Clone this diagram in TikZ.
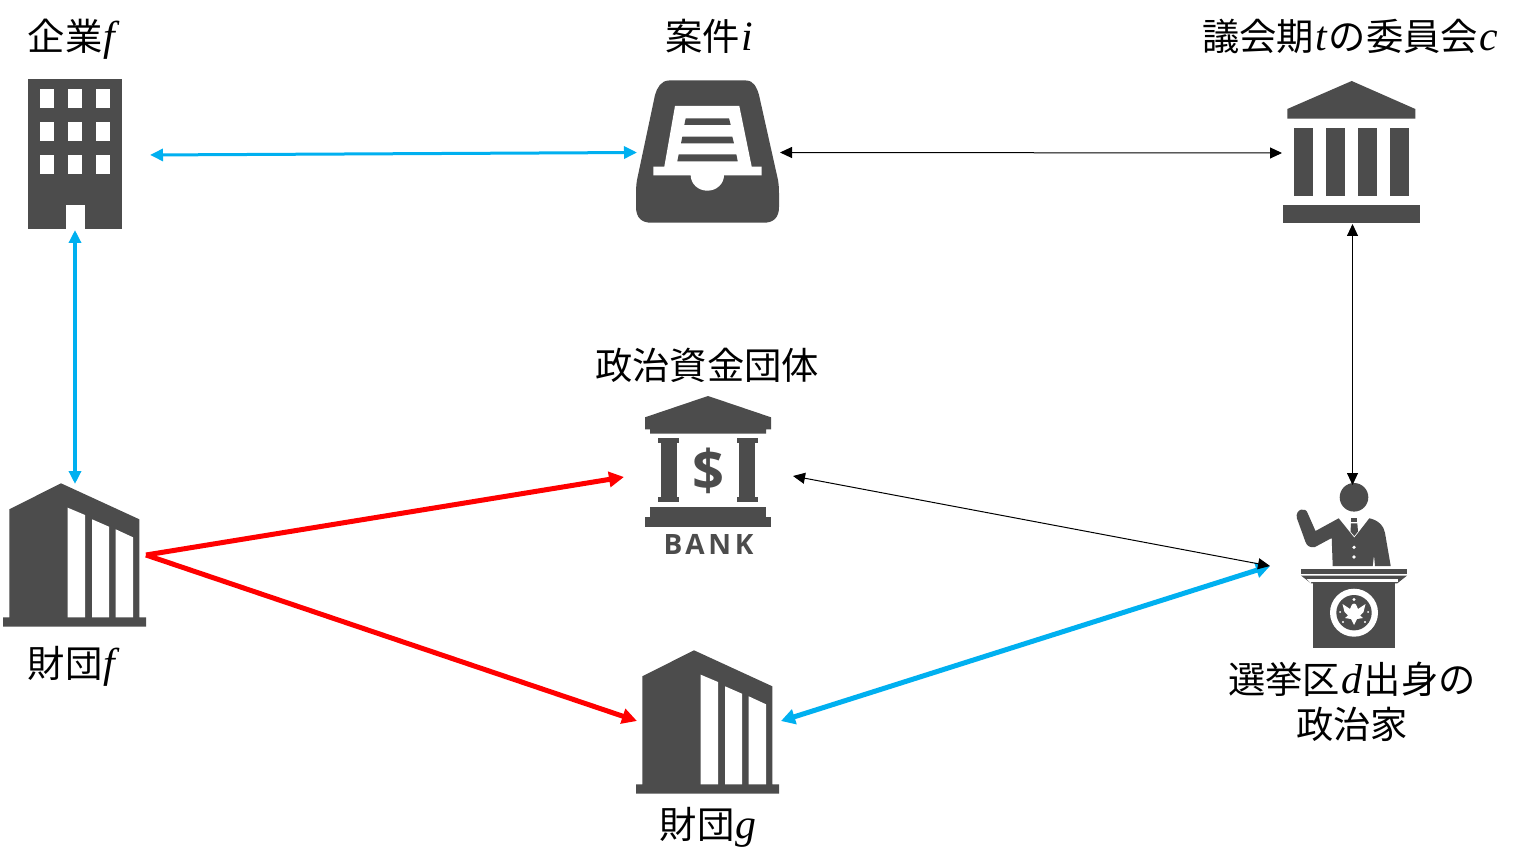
\documentclass[tikz,border=0pt]{standalone}
\usepackage{fontspec}
\setmainfont{Noto Sans CJK JP}
\newfontfamily\latinit[Scale=1.12]{Liberation Serif Italic}
\newfontfamily\bankfont[LetterSpace=13]{Open Sans Bold}
\newfontfamily\dollarfont{Open Sans Bold}
\usetikzlibrary{arrows.meta}
\definecolor{icondark}{HTML}{4C4C4C}
\definecolor{linkblue}{HTML}{00B0F0}
\definecolor{linkred}{HTML}{FF0000}
\newcommand{\vv}[1]{\kern1.5pt{\latinit #1}\kern1.5pt}
\newcommand{\foundationicon}{%
  \fill[icon] (3,617.3) -- (9.3,617.3) -- (9.3,509.3) -- (61,483.3) -- (139.3,519.3) -- (139.3,617.3) -- (146,617.3) -- (146,626.7) -- (3,626.7) -- cycle;
  \fill[hole] (67.7,507.7) -- (85,515) -- (85,617.3) -- (67.7,617.3) -- cycle;
  \fill[hole] (92,519.3) -- (109,526.7) -- (109,617.3) -- (92,617.3) -- cycle;
  \fill[hole] (115.7,529.3) -- (133,537.3) -- (133,617.3) -- (115.7,617.3) -- cycle;
}
\tikzset{
  icon/.style={fill=icondark},
  hole/.style={fill=white},
  lab/.style={font=\fontsize{37.3}{37.3}\selectfont, inner sep=0pt, anchor=base, text=black},
  bluearrow/.style={draw=linkblue, {Triangle[length=13pt,width=12pt]}-{Triangle[length=13pt,width=12pt]}},
  bigblue/.style={draw=linkblue, line width=5pt, {Triangle[length=14pt,width=15pt]}-{Triangle[length=14pt,width=15pt]}},
  blackarrow/.style={draw=black, line width=1pt, {Triangle[length=12pt,width=11pt]}-{Triangle[length=12pt,width=11pt]}},
  redarrow/.style={draw=linkred, line width=5pt, -{Triangle[length=15pt,width=15pt]}},
}
\begin{document}
\begin{tikzpicture}[x=1pt,y=-1pt]
\useasboundingbox (0,0) rectangle (1517,866);
\fill[white] (0,0) rectangle (1517,866);

% company building
\fill[icon] (28,79) rectangle (122,229);
\foreach \wy in {89.5,122.5,155.5}
  \foreach \wx in {39.5,68,96}
    \fill[hole] (\wx,\wy) rectangle ++(14.3,19);
\fill[hole] (65.7,205) rectangle (84.7,229);

% in-tray
\fill[icon]
  (669,80.5) -- (746,80.5) .. controls (754,80.5) and (757,88) .. (759,95)
  -- (778,180) .. controls (779,186) and (779,190) .. (779,196)
  -- (779,207) .. controls (779,218) and (773,222.7) .. (764,222.7)
  -- (651,222.7) .. controls (642,222.7) and (636,218) .. (636,207)
  -- (636,196) .. controls (636,190) and (636,186) .. (637,180)
  -- (655,95) .. controls (657,88) and (661,80.5) .. (669,80.5) -- cycle;
\fill[hole] (675,106) -- (739.3,106) -- (751.7,166.7) -- (761.7,166.7) -- (761.7,175.3) -- (724,175.3)
  arc[start angle=0,end angle=180,x radius=16.65pt,y radius=-15.4pt] -- (653.3,175.3) -- (653.3,166.7) -- (664.3,166.7) -- cycle;
\fill[icon] (685.7,118.3) -- (729,118.3) -- (730.7,125) -- (684.3,125) -- cycle;
\fill[icon] (682.3,136.7) -- (732.3,136.7) -- (734,143.3) -- (681,143.3) -- cycle;
\fill[icon] (678.7,154.3) -- (736.3,154.3) -- (737.7,161.3) -- (677.3,161.3) -- cycle;

% parliament
\fill[icon] (1351.7,81) -- (1415.3,109) -- (1415.3,118.7) -- (1287.3,118.7) -- (1287.3,109) -- cycle;
\foreach \cx in {1294.3,1326.3,1358.3,1390.3}
  \fill[icon] (\cx,128.3) rectangle ++(18.4,67.4);
\fill[icon] (1282.7,205.3) rectangle (1420,222.7);

% bank
\fill[icon] (708,396) -- (771,417.3) -- (771,429.3) -- (766,429.3) -- (766,433.7) -- (650,433.7) -- (650,429.3) -- (645,429.3) -- (645,417.3) -- cycle;
\foreach \cx in {658.3,737}{
  \fill[icon] (\cx,438.3) rectangle ++(20.7,5);
  \fill[icon] (\cx+2.4,443) rectangle ++(16,54.3);
  \fill[icon] (\cx,497) rectangle ++(20.7,5);
}
\fill[icon] (650,507) rectangle (766,517);
\fill[icon] (645,517) rectangle (771,526.7);
\node[inner sep=0pt, text=icondark, font=\fontsize{56}{56}\dollarfont] (dollar) at (708,471) {\$};
\node[inner sep=0pt, text=icondark, font=\fontsize{28}{28}\bankfont] (banktext) at (708.5,544.5) {BANK};

% foundations
\foundationicon
\begin{scope}[shift={(633,167)}]
\foundationicon
\end{scope}

% politician
\fill[icon] (1354,497.3) circle[radius=14.3pt];
\fill[icon] (1338.7,518.3) -- (1354.3,537.7) -- (1369.3,518.3) .. controls (1378,520) and (1384,526) .. (1385,533)
  -- (1390.7,566) -- (1375,566) -- (1374,555) -- (1372.7,566) -- (1332.7,566) -- (1331.7,538)
  -- (1315,547) .. controls (1310,548) and (1307,546) .. (1305.5,542)
  -- (1296.8,518) .. controls (1295,509) and (1306,506) .. (1308,514)
  -- (1315.5,531) -- cycle;
\fill[icon] (1350.7,518.3) rectangle (1357.3,522.3);
\fill[icon] (1351,523.3) -- (1357.3,523.3) -- (1358,531.5) -- (1354.3,536) -- (1350.5,531.5) -- cycle;
\fill[hole] (1354,547.3) circle[radius=1.8pt];
\fill[hole] (1354,557) circle[radius=1.8pt];
\fill[icon] (1300.7,569) rectangle (1407.3,574);
\fill[icon] (1301,575.6) -- (1407,575.6) -- (1397.3,583.3) -- (1311,583.3) -- cycle;
\fill[hole] (1311,579) rectangle (1397.5,582);
\fill[hole] (1306.5,579) -- (1311,579) -- (1311,583.3) -- cycle;
\fill[icon] (1313.3,582) rectangle (1395,647.7);
\fill[hole] (1354,612.7) circle[radius=24pt];
\fill[icon] (1354,612.7) circle[radius=17.7pt];
\fill[hole] (1354,625) -- (1351,619) -- (1345,618) -- (1348,615.5) -- (1344.5,612) -- (1342.5,604) -- (1347,607) -- (1350,609) -- (1352,604.5) -- (1354,603.5) -- (1356,604.5) -- (1358,609) -- (1361,607) -- (1365.5,604) -- (1363.5,612) -- (1360,615.5) -- (1363,618) -- (1357,619) -- cycle;
\fill[hole] (1354,599.5) circle[radius=1.6pt];
\fill[hole] (1343,622) circle[radius=1.2pt];
\fill[hole] (1365,622) circle[radius=1.2pt];
\fill[hole] (1340,612) circle[radius=1pt];
\fill[hole] (1368,612) circle[radius=1pt];

% labels
\node[lab] (lfirm) at (72.5,51) {企業\vv{f}};
\node[lab] (lcase) at (710,51) {案件\vv{i}};
\node[lab] (lcomm) at (1351,51) {議会期\vv{t}の委員会\vv{c}};
\node[lab] (lpac) at (707,379) {政治資金団体};
\node[lab] (lfdf) at (72.5,677) {財団\vv{f}};
\node[lab] (lfdg) at (709,838) {財団\vv{g}};
\node[lab] (lpol1) at (1352,693) {選挙区\vv{d}出身の};
\node[lab] (lpol2) at (1352,738) {政治家};

% connector ends
\coordinate (firmE) at (150,155);
\coordinate (trayW) at (637,152.5);
\coordinate (trayE) at (780,152.5);
\coordinate (commW) at (1282,153);
\coordinate (firmS) at (75,230);
\coordinate (fdfN) at (75,484);
\coordinate (commS) at (1352.5,224);
\coordinate (polN) at (1352.5,485);
\coordinate (fdfE) at (146,555);
\coordinate (bankW) at (624,477);
\coordinate (fdgW) at (637,721);
\coordinate (bankE) at (793,476);
\coordinate (polW) at (1270,566);
\coordinate (fdgE) at (781,721);

% connectors
\draw[bluearrow, line width=3pt] (firmE) -- (trayW);
\draw[blackarrow] (trayE) -- (commW);
\draw[bluearrow, line width=4pt] (firmS) -- (fdfN);
\draw[blackarrow] (commS) -- (polN);
\draw[redarrow] (fdfE) -- (bankW);
\draw[redarrow] (fdfE) -- (fdgW);
\draw[bigblue] (fdgE) -- (polW);
\draw[blackarrow] (bankE) -- (polW);
\end{tikzpicture}
\end{document}
